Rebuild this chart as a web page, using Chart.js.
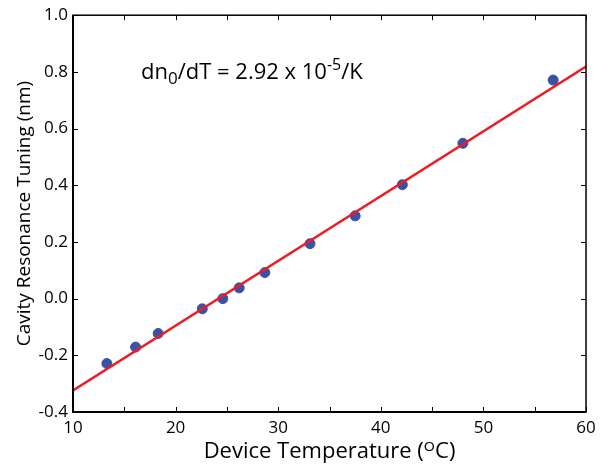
<!DOCTYPE html>
<html>
<head>
    <title>Cavity Resonance Tuning</title>
    <script src="https://cdn.jsdelivr.net/npm/chart.js"></script>
    <style>
        html, body { margin: 0; padding: 0; background: #fff; }
        #wrap { width: 609px; height: 468px; }
    </style>
</head>
<body>
    <div id="wrap"><canvas id="tuningChart"></canvas></div>

    <script>
        // measured points
        var temps = [13.3, 16.1, 18.3, 22.6, 24.6, 26.2, 28.7, 33.1, 37.5, 42.1, 48.0, 56.8];
        var shifts = [-0.229, -0.171, -0.123, -0.036, 0.0, 0.038, 0.092, 0.194, 0.292, 0.402, 0.548, 0.771];
        // linear fit end points
        var fitX = [10, 60];
        var fitY = [-0.324, 0.819];

        var FONT = "'Open Sans', 'Noto Sans', sans-serif";

        // inward ticks, box and the dn/dT note
        var framePlugin = {
            id: 'frame',
            afterDraw: function (chart) {
                var c = chart.ctx, a = chart.chartArea;
                var xs = chart.scales.x, ys = chart.scales.y;
                c.save();
                c.strokeStyle = '#000';
                c.lineWidth = 1;
                for (var v = 10; v <= 60; v += 5) {
                    var px = Math.round(xs.getPixelForValue(v)) + 0.5;
                    c.beginPath();
                    c.moveTo(px, a.bottom); c.lineTo(px, a.bottom - 5);
                    c.moveTo(px, a.top); c.lineTo(px, a.top + 5);
                    c.stroke();
                }
                for (var k = -2; k <= 5; k++) {
                    var py = Math.round(ys.getPixelForValue(k * 0.2)) + 0.5;
                    c.beginPath();
                    c.moveTo(a.left, py); c.lineTo(a.left + 5, py);
                    c.moveTo(a.right, py); c.lineTo(a.right - 5, py);
                    c.stroke();
                }
                c.lineWidth = 1.5;
                c.strokeRect(a.left, a.top, a.right - a.left, a.bottom - a.top);
                c.lineWidth = 2;
                c.beginPath();
                c.moveTo(a.left, a.top); c.lineTo(a.left, a.bottom); c.lineTo(a.right, a.bottom);
                c.stroke();

                // annotation
                c.fillStyle = '#000';
                c.textBaseline = 'alphabetic';
                var x = 141, y = 79;
                var parts = [
                    ['dn', 22, 0], ['0', 17, 5], ['/dT = 2.92 x 10', 22, 0],
                    ['-5', 16, -9], ['/K', 22, 0]
                ];
                parts.forEach(function (p) {
                    c.font = p[1] + 'px ' + FONT;
                    c.fillText(p[0], x, y + p[2]);
                    x += c.measureText(p[0]).width;
                });
                c.restore();
            }
        };

        var ctx = document.getElementById('tuningChart').getContext('2d');
        var chart = new Chart(ctx, {
            data: {
                datasets: [{
                    type: 'line',
                    label: 'Fit',
                    data: fitX.map(function (x, i) { return { x: x, y: fitY[i] }; }),
                    borderColor: '#ed1c24',
                    borderWidth: 2.5,
                    pointRadius: 0,
                    fill: false
                }, {
                    type: 'scatter',
                    label: 'Data',
                    data: temps.map(function (x, i) { return { x: x, y: shifts[i] }; }),
                    backgroundColor: '#3953a4',
                    borderColor: '#3953a4',
                    pointRadius: 5
                }]
            },
            options: {
                responsive: true,
                maintainAspectRatio: false,
                animation: false,
                layout: { padding: { top: 7, right: 23, left: 13, bottom: 0 } },
                plugins: { legend: { display: false }, tooltip: { enabled: false } },
                scales: {
                    x: {
                        type: 'linear', min: 10, max: 60,
                        grid: { display: false, drawTicks: false },
                        border: { display: false },
                        ticks: { stepSize: 10, color: '#000', padding: 6, font: { family: FONT, size: 17 } },
                        title: { display: true, text: 'Device Temperature (\u1D3CC)', color: '#000',
                                 font: { family: FONT, size: 22 }, padding: { top: 0, bottom: 3 } },
                        afterFit: function (s) { s.height = 56; }
                    },
                    y: {
                        type: 'linear', min: -0.4, max: 1.0,
                        grid: { display: false, drawTicks: false },
                        border: { display: false },
                        ticks: { stepSize: 0.2, color: '#000', padding: 5, font: { family: FONT, size: 17 },
                                 callback: function (v) { return Math.abs(v) < 1e-9 ? '0.0' : v.toFixed(1); } },
                        title: { display: true, text: 'Cavity Resonance Tuning (nm)', color: '#000',
                                 font: { family: FONT, size: 19 }, padding: { top: 0, bottom: 4 } },
                        afterFit: function (s) { s.width = 60; }
                    }
                }
            },
            plugins: [framePlugin]
        });
    </script>
</body>
</html>
